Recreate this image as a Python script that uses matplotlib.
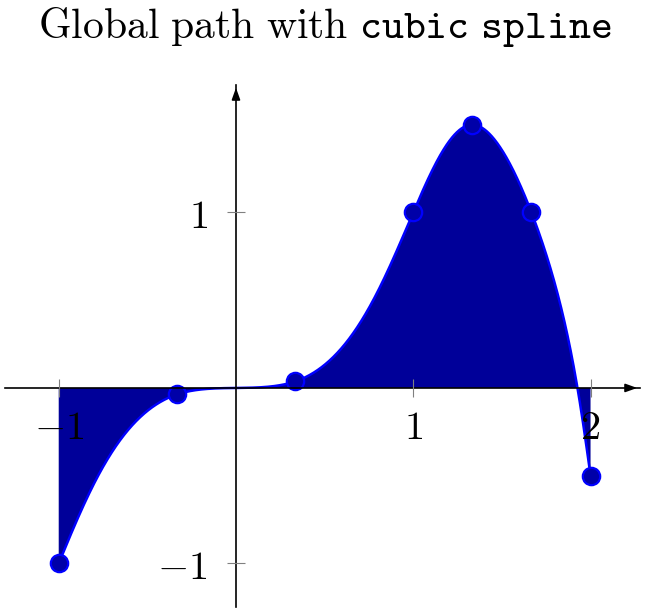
import numpy as np
import matplotlib
matplotlib.use("Agg")
import matplotlib.pyplot as plt

x_pts = [-1.0, -1/3, 1/3, 1.0, 4/3, 5/3, 2.0]
y_pts = [-1.0, -1/27, 1/27, 1.0, 1.5, 1.0, -0.5]
x_ticks = [-1, 1, 2]
x_ticklabels = [r"$-1$", r"$1$", r"$2$"]
y_ticks = [-1, 1]
y_ticklabels = [r"$-1$", r"$1$"]

plt.rcParams['mathtext.fontset'] = 'cm'


def natural_spline(t, v, ts):
    t = np.asarray(t); v = np.asarray(v)
    n = len(t)
    h = np.diff(t)
    A = np.zeros((n, n)); b = np.zeros(n)
    A[0, 0] = 1; A[-1, -1] = 1
    for i in range(1, n - 1):
        A[i, i - 1] = h[i - 1]
        A[i, i] = 2 * (h[i - 1] + h[i])
        A[i, i + 1] = h[i]
        b[i] = 6 * ((v[i + 1] - v[i]) / h[i] - (v[i] - v[i - 1]) / h[i - 1])
    M = np.linalg.solve(A, b)
    out = np.empty_like(ts)
    for k, s in enumerate(ts):
        i = min(max(np.searchsorted(t, s) - 1, 0), n - 2)
        a = t[i + 1] - s; c = s - t[i]
        out[k] = (M[i] * a**3 + M[i + 1] * c**3) / (6 * h[i]) \
            + (v[i] / h[i] - M[i] * h[i] / 6) * a \
            + (v[i + 1] / h[i] - M[i + 1] * h[i] / 6) * c
    return out


# parametric cubic spline through the points (the global path)
px = np.asarray(x_pts); py = np.asarray(y_pts)
t = np.r_[0, np.cumsum(np.hypot(np.diff(px), np.diff(py)) ** 0.8)]
ts = np.linspace(t[0], t[-1], 1500)
cx = natural_spline(t, px, ts)
cy = natural_spline(t, py, ts)

fig = plt.figure(figsize=(6.49, 6.13), dpi=100)
W, H = 649, 613
ax = fig.add_axes([5 / W, (H - 607) / H, 635 / W, (607 - 85) / H])
ax.set_xlim(-1.303, 2.279)
ax.set_ylim(-1.248, 1.726)

ax.fill(np.r_[cx, cx[::-1]], np.r_[cy, np.zeros_like(cy)], color='#000099', lw=0, zorder=2)
ax.plot(cx, cy, color='#0000ff', lw=1.8, zorder=3)
ax.plot(x_pts, y_pts, 'o', ms=12.5, mfc='#0000a8', mec='#0000ff', mew=1.6, zorder=4)

for s in ['top', 'right']:
    ax.spines[s].set_visible(False)
for s in ['left', 'bottom']:
    ax.spines[s].set_position(('data', 0))
    ax.spines[s].set_linewidth(1.2)
    ax.spines[s].set_zorder(5)
ax.annotate('', xy=(2.279, 0), xytext=(2.2, 0),
            arrowprops=dict(arrowstyle='-|>,head_length=0.7,head_width=0.25', color='black', lw=1.2))
ax.annotate('', xy=(0, 1.726), xytext=(0, 1.65),
            arrowprops=dict(arrowstyle='-|>,head_length=0.7,head_width=0.25', color='black', lw=1.2))

ax.set_xticks(x_ticks)
ax.set_xticklabels(x_ticklabels)
ax.set_yticks(y_ticks)
ax.set_yticklabels(y_ticklabels)
ax.tick_params(direction='inout', length=13, width=0.8, color='#808080', labelsize=29)
ax.tick_params(axis='x', pad=8)
ax.tick_params(axis='y', pad=14)
ax.xaxis.set_zorder(6)
ax.yaxis.set_zorder(6)

fig.text(0.5, 1 - 38 / H, r"$\mathrm{Global\ path\ with\ }\mathtt{cubic\ spline}$",
         ha='center', va='baseline', fontsize=30)

fig.savefig('out.png', dpi=100)
